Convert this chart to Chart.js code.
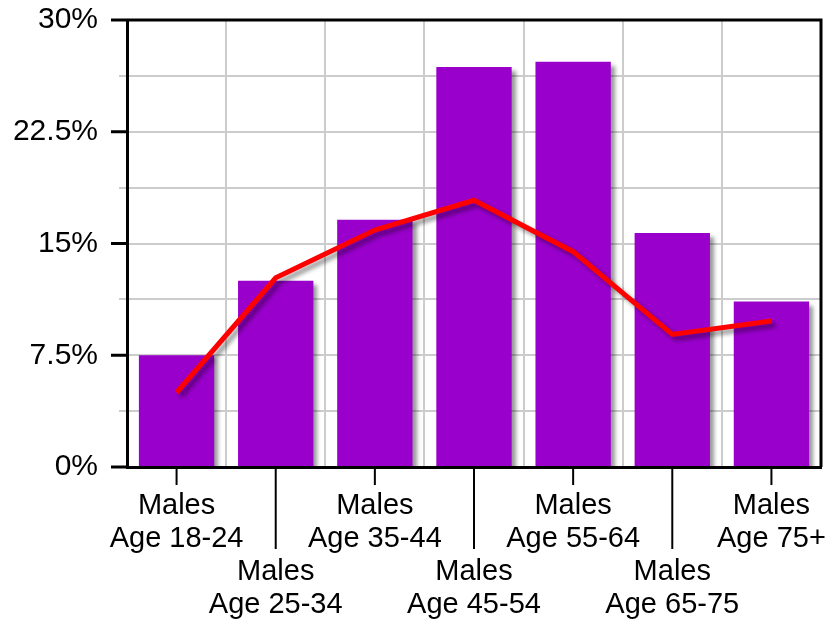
<!DOCTYPE html>
<html>
<head>
<meta charset="utf-8">
<script src="https://cdn.jsdelivr.net/npm/chart.js@4/dist/chart.umd.min.js"></script>
<style>
  html, body { margin: 0; padding: 0; background: #fff; }
  #wrap { width: 830px; height: 620px; }
</style>
</head>
<body>
<div id="wrap"><canvas id="age-chart" width="830" height="620"></canvas></div>
<script>
// Data
const categories = [
    ["Males", "Age 18-24"],
    ["Males", "Age 25-34"],
    ["Males", "Age 35-44"],
    ["Males", "Age 45-54"],
    ["Males", "Age 55-64"],
    ["Males", "Age 65-75"],
    ["Males", "Age 75+"]
];
const barValues = [7.5, 12.5, 16.6, 26.85, 27.2, 15.7, 11.1];
const lineValues = [5.0, 12.7, 15.9, 17.9, 14.45, 8.9, 9.8];
const yMax = 30;
const yStep = 1.875;
const yLabelStep = 7.5;

// Stagger labels: odd ones go on a second row
const staggeredLabels = categories.map((lines, i) => i % 2 ? ["", ""].concat(lines) : lines);

// Drop shadow for each dataset
const shadowPlugin = {
    id: "shadow",
    beforeDatasetDraw(chart) {
        const ctx = chart.ctx;
        ctx.save();
        ctx.shadowColor = "rgba(0,0,0,0.4)";
        ctx.shadowOffsetX = 4;
        ctx.shadowOffsetY = 4;
        ctx.shadowBlur = 4;
    },
    afterDatasetDraw(chart) {
        chart.ctx.restore();
    }
};

// Frame + axis tick marks
const framePlugin = {
    id: "frame",
    afterDraw(chart) {
        const ctx = chart.ctx;
        const a = chart.chartArea;
        const x = chart.scales.x;
        const y = chart.scales.y;
        ctx.save();
        ctx.strokeStyle = "#000";
        ctx.lineWidth = 3;
        ctx.beginPath();
        ctx.moveTo(a.left, a.top);
        ctx.lineTo(a.right, a.top);
        ctx.lineTo(a.right, a.bottom);
        ctx.stroke();

        // y major ticks
        y.ticks.forEach((t, i) => {
            if (t.value % yLabelStep !== 0) return;
            const py = y.getPixelForTick(i);
            ctx.beginPath();
            ctx.moveTo(a.left - 16, py);
            ctx.lineTo(a.left, py);
            ctx.stroke();
        });

        // x ticks, short and long alternating
        ctx.lineWidth = 2;
        x.ticks.forEach((t, i) => {
            const px = x.getPixelForTick(i);
            ctx.beginPath();
            ctx.moveTo(px, a.bottom);
            ctx.lineTo(px, a.bottom + (i % 2 ? 82 : 18));
            ctx.stroke();
        });
        ctx.restore();
    }
};

function renderChart() {
    const ctx = document.getElementById("age-chart").getContext("2d");

    new Chart(ctx, {
        data: {
            labels: staggeredLabels,
            datasets: [{
                type: "line",
                data: lineValues,
                borderColor: "#ff0000",
                borderWidth: 5,
                pointRadius: 0,
                tension: 0,
                order: 0,
            }, {
                type: "bar",
                data: barValues,
                backgroundColor: "#9900cc",
                categoryPercentage: 1,
                barPercentage: 0.76,
                order: 1,
            }]
        },
        options: {
            responsive: false,
            animation: false,
            layout: { padding: { top: 20, right: 9, left: 0, bottom: 0 } },
            plugins: {
                legend: { display: false },
                tooltip: { enabled: false },
            },
            scales: {
                x: {
                    offset: true,
                    grid: { offset: true, color: "#cccccc", lineWidth: 2, drawTicks: false },
                    border: { color: "#000", width: 3 },
                    ticks: {
                        color: "#000",
                        font: { family: "'Liberation Sans', Arial, sans-serif", size: 29, lineHeight: 1.14 },
                        padding: 22,
                        maxRotation: 0,
                        autoSkip: false,
                    },
                    afterFit(scale) {
                        scale.height = 153;
                        scale.paddingLeft = 0;
                        scale.paddingRight = 0;
                    },
                },
                y: {
                    min: 0,
                    max: yMax,
                    grid: {
                        color: "#cccccc",
                        lineWidth: 2,
                        tickLength: 8,
                        tickColor: "#cccccc",
                    },
                    border: { color: "#000", width: 3 },
                    ticks: {
                        stepSize: yStep,
                        color: "#000",
                        padding: 21,
                        font: { family: "'Liberation Sans', Arial, sans-serif", size: 30 },
                        callback: (v) => v % yLabelStep === 0 ? v + "%" : "",
                    },
                    afterFit(scale) {
                        scale.width = 127;
                        scale.paddingTop = 0;
                        scale.paddingBottom = 0;
                    },
                },
            },
        },
        plugins: [shadowPlugin, framePlugin],
    });
}

document.addEventListener("DOMContentLoaded", renderChart);
</script>
</body>
</html>
